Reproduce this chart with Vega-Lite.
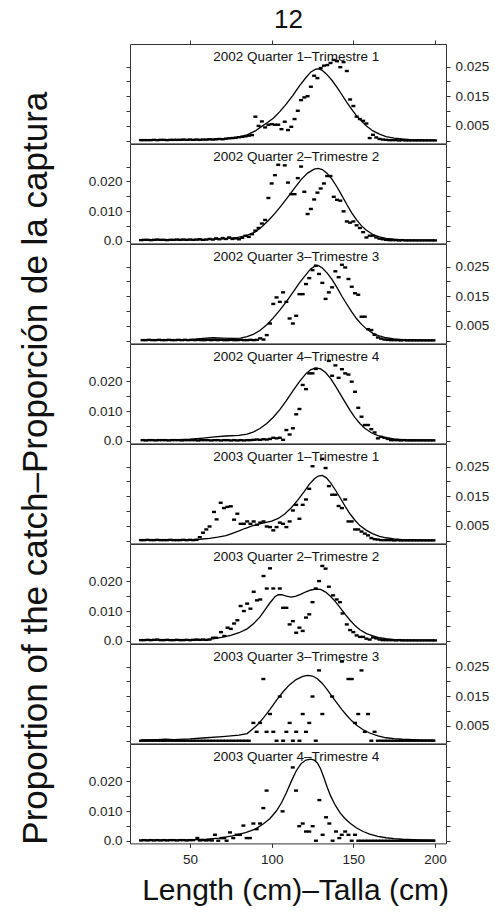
{
"$schema": "https://vega.github.io/schema/vega-lite/v6.json",
"background": "white",
"padding": {"left": 18, "top": 6, "right": 2, "bottom": 5},
"config": {
  "font": "Liberation Sans",
  "view": {"stroke": "#333", "strokeWidth": 1},
  "axis": {"grid": false, "domain": false, "tickColor": "#333", "tickSize": 4, "labelFont": "Liberation Sans", "labelFontSize": 13.5, "labelColor": "#222", "titleFont": "Liberation Sans", "titleFontWeight": "normal", "titleColor": "#111", "labelOverlap": false, "labelFlush": false}
},
"title": {"text": "Proportion of the catch–Proporción de la captura", "orient": "left", "anchor": "middle", "fontSize": 35, "fontWeight": "normal", "font": "Liberation Sans", "color": "#111", "offset": 34, "dx": -12},
"spacing": 0,
"bounds": "flush",
"datasets": {
"obs": [
{"p":1,"L":20,"v":0.0002},{"p":1,"L":22,"v":0.0002},{"p":1,"L":24,"v":0.0002},{"p":1,"L":26,"v":0.0002},{"p":1,"L":28,"v":0.0003},{"p":1,"L":30,"v":0.0002},{"p":1,"L":32,"v":0.0003},{"p":1,"L":34,"v":0.0003},{"p":1,"L":36,"v":0.0002},{"p":1,"L":38,"v":0.0003},{"p":1,"L":40,"v":0.0003},{"p":1,"L":42,"v":0.0003},{"p":1,"L":44,"v":0.0003},{"p":1,"L":46,"v":0.0004},{"p":1,"L":48,"v":0.0003},{"p":1,"L":50,"v":0.0004},{"p":1,"L":52,"v":0.0003},{"p":1,"L":54,"v":0.0004},{"p":1,"L":56,"v":0.0003},{"p":1,"L":58,"v":0.0004},{"p":1,"L":60,"v":0.0004},{"p":1,"L":62,"v":0.0005},{"p":1,"L":64,"v":0.0004},{"p":1,"L":66,"v":0.0005},{"p":1,"L":68,"v":0.0006},{"p":1,"L":70,"v":0.0005},{"p":1,"L":72,"v":0.0007},{"p":1,"L":74,"v":0.0008},{"p":1,"L":76,"v":0.0009},{"p":1,"L":78,"v":0.001},{"p":1,"L":80,"v":0.0012},{"p":1,"L":82,"v":0.0013},{"p":1,"L":84,"v":0.0015},{"p":1,"L":86,"v":0.0017},{"p":1,"L":88,"v":0.0019},{"p":1,"L":90,"v":0.0081},{"p":1,"L":92,"v":0.005},{"p":1,"L":94,"v":0.0065},{"p":1,"L":96,"v":0.0045},{"p":1,"L":98,"v":0.0054},{"p":1,"L":100,"v":0.0056},{"p":1,"L":102,"v":0.0054},{"p":1,"L":104,"v":0.0054},{"p":1,"L":106,"v":0.0039},{"p":1,"L":108,"v":0.0064},{"p":1,"L":110,"v":0.0036},{"p":1,"L":112,"v":0.0047},{"p":1,"L":114,"v":0.0073},{"p":1,"L":116,"v":0.0101},{"p":1,"L":118,"v":0.0137},{"p":1,"L":120,"v":0.0146},{"p":1,"L":122,"v":0.015},{"p":1,"L":124,"v":0.0182},{"p":1,"L":126,"v":0.0219},{"p":1,"L":128,"v":0.0211},{"p":1,"L":130,"v":0.0245},{"p":1,"L":132,"v":0.0253},{"p":1,"L":134,"v":0.0255},{"p":1,"L":136,"v":0.0262},{"p":1,"L":138,"v":0.0272},{"p":1,"L":140,"v":0.0268},{"p":1,"L":142,"v":0.0248},{"p":1,"L":144,"v":0.0265},{"p":1,"L":146,"v":0.0235},{"p":1,"L":148,"v":0.0139},{"p":1,"L":150,"v":0.0117},{"p":1,"L":152,"v":0.0081},{"p":1,"L":154,"v":0.0073},{"p":1,"L":156,"v":0.0067},{"p":1,"L":158,"v":0.0058},{"p":1,"L":160,"v":0.0009},{"p":1,"L":162,"v":0.002},{"p":1,"L":164,"v":0.0011},{"p":1,"L":166,"v":0.0006},{"p":1,"L":168,"v":0.0004},{"p":1,"L":170,"v":0.0003},{"p":1,"L":172,"v":0.0002},{"p":1,"L":174,"v":0.0002},{"p":1,"L":176,"v":0.0002},{"p":1,"L":178,"v":0.0001},{"p":1,"L":180,"v":0.0002},{"p":1,"L":182,"v":0.0001},{"p":1,"L":184,"v":0.0001},{"p":1,"L":186,"v":0.0001},{"p":1,"L":188,"v":0.0001},{"p":1,"L":190,"v":0.0001},{"p":1,"L":192,"v":0.0001},{"p":1,"L":194,"v":0.0001},{"p":1,"L":196,"v":0.0001},{"p":1,"L":198,"v":0.0001},{"p":1,"L":200,"v":0.0001},
{"p":2,"L":20,"v":0.0002},{"p":2,"L":22,"v":0.0003},{"p":2,"L":24,"v":0.0003},{"p":2,"L":26,"v":0.0002},{"p":2,"L":28,"v":0.0003},{"p":2,"L":30,"v":0.0004},{"p":2,"L":32,"v":0.0003},{"p":2,"L":34,"v":0.0003},{"p":2,"L":36,"v":0.0002},{"p":2,"L":38,"v":0.0003},{"p":2,"L":40,"v":0.0003},{"p":2,"L":42,"v":0.0004},{"p":2,"L":44,"v":0.0003},{"p":2,"L":46,"v":0.0004},{"p":2,"L":48,"v":0.0003},{"p":2,"L":50,"v":0.0004},{"p":2,"L":52,"v":0.0003},{"p":2,"L":54,"v":0.0004},{"p":2,"L":56,"v":0.0005},{"p":2,"L":58,"v":0.0003},{"p":2,"L":60,"v":0.0004},{"p":2,"L":62,"v":0.0006},{"p":2,"L":64,"v":0.0004},{"p":2,"L":66,"v":0.0008},{"p":2,"L":68,"v":0.0005},{"p":2,"L":70,"v":0.0009},{"p":2,"L":72,"v":0.0006},{"p":2,"L":74,"v":0.0011},{"p":2,"L":76,"v":0.0006},{"p":2,"L":78,"v":0.0008},{"p":2,"L":80,"v":0.0005},{"p":2,"L":82,"v":0.001},{"p":2,"L":84,"v":0.0017},{"p":2,"L":86,"v":0.0013},{"p":2,"L":88,"v":0.0022},{"p":2,"L":90,"v":0.0034},{"p":2,"L":92,"v":0.0043},{"p":2,"L":94,"v":0.0058},{"p":2,"L":96,"v":0.007},{"p":2,"L":98,"v":0.0144},{"p":2,"L":100,"v":0.0193},{"p":2,"L":102,"v":0.0221},{"p":2,"L":104,"v":0.0256},{"p":2,"L":108,"v":0.0254},{"p":2,"L":110,"v":0.0196},{"p":2,"L":112,"v":0.0157},{"p":2,"L":114,"v":0.0157},{"p":2,"L":116,"v":0.0211},{"p":2,"L":118,"v":0.025},{"p":2,"L":120,"v":0.0165},{"p":2,"L":122,"v":0.009},{"p":2,"L":124,"v":0.0107},{"p":2,"L":126,"v":0.0139},{"p":2,"L":128,"v":0.0162},{"p":2,"L":130,"v":0.0176},{"p":2,"L":132,"v":0.0193},{"p":2,"L":134,"v":0.0218},{"p":2,"L":136,"v":0.0218},{"p":2,"L":138,"v":0.0148},{"p":2,"L":140,"v":0.0138},{"p":2,"L":142,"v":0.0135},{"p":2,"L":144,"v":0.0099},{"p":2,"L":146,"v":0.0065},{"p":2,"L":148,"v":0.0061},{"p":2,"L":150,"v":0.0065},{"p":2,"L":152,"v":0.0052},{"p":2,"L":154,"v":0.0043},{"p":2,"L":156,"v":0.0029},{"p":2,"L":158,"v":0.0011},{"p":2,"L":160,"v":0.0017},{"p":2,"L":162,"v":0.0017},{"p":2,"L":164,"v":0.0011},{"p":2,"L":166,"v":0.0007},{"p":2,"L":168,"v":0.0005},{"p":2,"L":170,"v":0.0003},{"p":2,"L":172,"v":0.0002},{"p":2,"L":174,"v":0.0002},{"p":2,"L":176,"v":0.0002},{"p":2,"L":178,"v":0.0001},{"p":2,"L":180,"v":0.0002},{"p":2,"L":182,"v":0.0001},{"p":2,"L":184,"v":0.0001},{"p":2,"L":186,"v":0.0001},{"p":2,"L":188,"v":0.0001},{"p":2,"L":190,"v":0.0001},{"p":2,"L":192,"v":0.0001},{"p":2,"L":194,"v":0.0001},{"p":2,"L":196,"v":0.0001},{"p":2,"L":198,"v":0.0001},{"p":2,"L":200,"v":0.0001},
{"p":3,"L":21,"v":0.0002},{"p":3,"L":23,"v":0.0002},{"p":3,"L":25,"v":0.0003},{"p":3,"L":27,"v":0.0002},{"p":3,"L":29,"v":0.0002},{"p":3,"L":31,"v":0.0003},{"p":3,"L":33,"v":0.0002},{"p":3,"L":35,"v":0.0002},{"p":3,"L":37,"v":0.0003},{"p":3,"L":39,"v":0.0002},{"p":3,"L":41,"v":0.0002},{"p":3,"L":43,"v":0.0003},{"p":3,"L":45,"v":0.0002},{"p":3,"L":47,"v":0.0003},{"p":3,"L":49,"v":0.0002},{"p":3,"L":51,"v":0.0003},{"p":3,"L":53,"v":0.0002},{"p":3,"L":55,"v":0.0003},{"p":3,"L":57,"v":0.0002},{"p":3,"L":59,"v":0.0002},{"p":3,"L":61,"v":0.0003},{"p":3,"L":63,"v":0.0002},{"p":3,"L":65,"v":0.0003},{"p":3,"L":67,"v":0.0002},{"p":3,"L":69,"v":0.0003},{"p":3,"L":71,"v":0.0002},{"p":3,"L":73,"v":0.0002},{"p":3,"L":75,"v":0.0003},{"p":3,"L":77,"v":0.0002},{"p":3,"L":79,"v":0.0002},{"p":3,"L":81,"v":0.0003},{"p":3,"L":83,"v":0.0002},{"p":3,"L":85,"v":0.0002},{"p":3,"L":87,"v":0.0003},{"p":3,"L":89,"v":0.0002},{"p":3,"L":91,"v":0.0003},{"p":3,"L":93,"v":0.0008},{"p":3,"L":95,"v":0.0004},{"p":3,"L":97,"v":0.0019},{"p":3,"L":99,"v":0.0058},{"p":3,"L":101,"v":0.0124},{"p":3,"L":103,"v":0.0146},{"p":3,"L":105,"v":0.0131},{"p":3,"L":107,"v":0.0163},{"p":3,"L":109,"v":0.0131},{"p":3,"L":111,"v":0.0075},{"p":3,"L":113,"v":0.0058},{"p":3,"L":115,"v":0.0084},{"p":3,"L":117,"v":0.0157},{"p":3,"L":119,"v":0.0157},{"p":3,"L":121,"v":0.0191},{"p":3,"L":123,"v":0.0211},{"p":3,"L":125,"v":0.0238},{"p":3,"L":127,"v":0.0253},{"p":3,"L":129,"v":0.0225},{"p":3,"L":131,"v":0.0195},{"p":3,"L":133,"v":0.0141},{"p":3,"L":135,"v":0.0163},{"p":3,"L":137,"v":0.018},{"p":3,"L":139,"v":0.0234},{"p":3,"L":141,"v":0.0214},{"p":3,"L":143,"v":0.0256},{"p":3,"L":145,"v":0.0247},{"p":3,"L":147,"v":0.0208},{"p":3,"L":149,"v":0.0182},{"p":3,"L":151,"v":0.016},{"p":3,"L":153,"v":0.0155},{"p":3,"L":155,"v":0.0081},{"p":3,"L":157,"v":0.0081},{"p":3,"L":159,"v":0.0039},{"p":3,"L":161,"v":0.0036},{"p":3,"L":163,"v":0.002},{"p":3,"L":165,"v":0.0011},{"p":3,"L":167,"v":0.0007},{"p":3,"L":169,"v":0.0004},{"p":3,"L":171,"v":0.0003},{"p":3,"L":173,"v":0.0002},{"p":3,"L":175,"v":0.0002},{"p":3,"L":177,"v":0.0002},{"p":3,"L":179,"v":0.0001},{"p":3,"L":181,"v":0.0002},{"p":3,"L":183,"v":0.0001},{"p":3,"L":185,"v":0.0001},{"p":3,"L":187,"v":0.0001},{"p":3,"L":189,"v":0.0001},{"p":3,"L":191,"v":0.0001},{"p":3,"L":193,"v":0.0001},{"p":3,"L":195,"v":0.0001},{"p":3,"L":197,"v":0.0001},{"p":3,"L":199,"v":0.0001},
{"p":4,"L":21,"v":0.0002},{"p":4,"L":23,"v":0.0001},{"p":4,"L":25,"v":0.0002},{"p":4,"L":27,"v":0.0002},{"p":4,"L":29,"v":0.0001},{"p":4,"L":31,"v":0.0002},{"p":4,"L":33,"v":0.0002},{"p":4,"L":35,"v":0.0002},{"p":4,"L":37,"v":0.0001},{"p":4,"L":39,"v":0.0002},{"p":4,"L":41,"v":0.0002},{"p":4,"L":43,"v":0.0002},{"p":4,"L":45,"v":0.0001},{"p":4,"L":47,"v":0.0002},{"p":4,"L":49,"v":0.0002},{"p":4,"L":51,"v":0.0002},{"p":4,"L":53,"v":0.0002},{"p":4,"L":55,"v":0.0001},{"p":4,"L":57,"v":0.0002},{"p":4,"L":59,"v":0.0002},{"p":4,"L":61,"v":0.0002},{"p":4,"L":63,"v":0.0001},{"p":4,"L":65,"v":0.0002},{"p":4,"L":67,"v":0.0002},{"p":4,"L":69,"v":0.0001},{"p":4,"L":71,"v":0.0002},{"p":4,"L":73,"v":0.0002},{"p":4,"L":75,"v":0.0001},{"p":4,"L":77,"v":0.0002},{"p":4,"L":79,"v":0.0001},{"p":4,"L":81,"v":0.0002},{"p":4,"L":83,"v":0.0001},{"p":4,"L":85,"v":0.0002},{"p":4,"L":87,"v":0.0002},{"p":4,"L":89,"v":0.0003},{"p":4,"L":91,"v":0.0004},{"p":4,"L":93,"v":0.0003},{"p":4,"L":95,"v":0.0005},{"p":4,"L":97,"v":0.0004},{"p":4,"L":99,"v":0.0006},{"p":4,"L":101,"v":0.001},{"p":4,"L":103,"v":0.0008},{"p":4,"L":105,"v":0.001},{"p":4,"L":107,"v":0.0003},{"p":4,"L":109,"v":0.0036},{"p":4,"L":111,"v":0.0021},{"p":4,"L":113,"v":0.0042},{"p":4,"L":115,"v":0.0089},{"p":4,"L":117,"v":0.0107},{"p":4,"L":119,"v":0.0188},{"p":4,"L":121,"v":0.0174},{"p":4,"L":123,"v":0.0227},{"p":4,"L":125,"v":0.0227},{"p":4,"L":127,"v":0.0242},{"p":4,"L":135,"v":0.0269},{"p":4,"L":137,"v":0.0219},{"p":4,"L":139,"v":0.0254},{"p":4,"L":141,"v":0.0212},{"p":4,"L":143,"v":0.0241},{"p":4,"L":145,"v":0.0227},{"p":4,"L":147,"v":0.0223},{"p":4,"L":149,"v":0.0199},{"p":4,"L":151,"v":0.0165},{"p":4,"L":153,"v":0.0111},{"p":4,"L":155,"v":0.0081},{"p":4,"L":157,"v":0.0053},{"p":4,"L":159,"v":0.0053},{"p":4,"L":161,"v":0.0039},{"p":4,"L":163,"v":0.0028},{"p":4,"L":165,"v":0.0008},{"p":4,"L":167,"v":0.0013},{"p":4,"L":169,"v":0.001},{"p":4,"L":171,"v":0.0006},{"p":4,"L":173,"v":0.0002},{"p":4,"L":175,"v":0.0002},{"p":4,"L":177,"v":0.0002},{"p":4,"L":179,"v":0.0001},{"p":4,"L":181,"v":0.0002},{"p":4,"L":183,"v":0.0001},{"p":4,"L":185,"v":0.0001},{"p":4,"L":187,"v":0.0001},{"p":4,"L":189,"v":0.0001},{"p":4,"L":191,"v":0.0001},{"p":4,"L":193,"v":0.0001},{"p":4,"L":195,"v":0.0001},{"p":4,"L":197,"v":0.0001},{"p":4,"L":199,"v":0.0001},
{"p":5,"L":20,"v":0.0002},{"p":5,"L":22,"v":0.0002},{"p":5,"L":24,"v":0.0003},{"p":5,"L":26,"v":0.0002},{"p":5,"L":28,"v":0.0002},{"p":5,"L":30,"v":0.0003},{"p":5,"L":32,"v":0.0002},{"p":5,"L":34,"v":0.0002},{"p":5,"L":36,"v":0.0002},{"p":5,"L":38,"v":0.0003},{"p":5,"L":40,"v":0.0002},{"p":5,"L":42,"v":0.0002},{"p":5,"L":44,"v":0.0002},{"p":5,"L":46,"v":0.0003},{"p":5,"L":48,"v":0.0002},{"p":5,"L":50,"v":0.0003},{"p":5,"L":52,"v":0.0002},{"p":5,"L":54,"v":0.0003},{"p":5,"L":56,"v":0.0012},{"p":5,"L":58,"v":0.0027},{"p":5,"L":60,"v":0.0038},{"p":5,"L":62,"v":0.0048},{"p":5,"L":64.7,"v":0.0097},{"p":5,"L":66.3,"v":0.0072},{"p":5,"L":68.8,"v":0.0128},{"p":5,"L":70.8,"v":0.011},{"p":5,"L":72.9,"v":0.0114},{"p":5,"L":75,"v":0.0116},{"p":5,"L":77,"v":0.0071},{"p":5,"L":79,"v":0.0091},{"p":5,"L":81,"v":0.0057},{"p":5,"L":83,"v":0.0057},{"p":5,"L":85,"v":0.0065},{"p":5,"L":87,"v":0.0057},{"p":5,"L":89,"v":0.0065},{"p":5,"L":91,"v":0.0054},{"p":5,"L":93,"v":0.0061},{"p":5,"L":95,"v":0.0065},{"p":5,"L":97,"v":0.0048},{"p":5,"L":99,"v":0.0046},{"p":5,"L":101,"v":0.0035},{"p":5,"L":103,"v":0.0046},{"p":5,"L":105,"v":0.0061},{"p":5,"L":107,"v":0.0057},{"p":5,"L":109,"v":0.0046},{"p":5,"L":111,"v":0.0065},{"p":5,"L":113,"v":0.0102},{"p":5,"L":115,"v":0.0121},{"p":5,"L":117,"v":0.0074},{"p":5,"L":119,"v":0.0121},{"p":5,"L":121,"v":0.0139},{"p":5,"L":123,"v":0.0175},{"p":5,"L":125,"v":0.0251},{"p":5,"L":131,"v":0.0276},{"p":5,"L":133,"v":0.0245},{"p":5,"L":135,"v":0.0184},{"p":5,"L":137,"v":0.0155},{"p":5,"L":139,"v":0.0155},{"p":5,"L":141,"v":0.0117},{"p":5,"L":143,"v":0.011},{"p":5,"L":145,"v":0.0139},{"p":5,"L":147,"v":0.0065},{"p":5,"L":149,"v":0.0065},{"p":5,"L":151,"v":0.0038},{"p":5,"L":153,"v":0.0038},{"p":5,"L":155,"v":0.0031},{"p":5,"L":157,"v":0.0024},{"p":5,"L":159,"v":0.0018},{"p":5,"L":161,"v":0.0009},{"p":5,"L":163,"v":0.0005},{"p":5,"L":165,"v":0.0004},{"p":5,"L":167,"v":0.0002},{"p":5,"L":169,"v":0.0002},{"p":5,"L":171,"v":0.0002},{"p":5,"L":173,"v":0.0002},{"p":5,"L":175,"v":0.0001},{"p":5,"L":177,"v":0.0002},{"p":5,"L":179,"v":0.0001},{"p":5,"L":181,"v":0.0001},{"p":5,"L":183,"v":0.0001},{"p":5,"L":185,"v":0.0001},{"p":5,"L":187,"v":0.0001},{"p":5,"L":189,"v":0.0001},{"p":5,"L":191,"v":0.0001},{"p":5,"L":193,"v":0.0001},{"p":5,"L":195,"v":0.0001},{"p":5,"L":197,"v":0.0001},{"p":5,"L":199,"v":0.0001},
{"p":6,"L":20,"v":0.0002},{"p":6,"L":22,"v":0.0002},{"p":6,"L":24,"v":0.0003},{"p":6,"L":26,"v":0.0002},{"p":6,"L":28,"v":0.0003},{"p":6,"L":30,"v":0.0004},{"p":6,"L":32,"v":0.0002},{"p":6,"L":34,"v":0.0002},{"p":6,"L":36,"v":0.0003},{"p":6,"L":38,"v":0.0002},{"p":6,"L":40,"v":0.0002},{"p":6,"L":42,"v":0.0003},{"p":6,"L":44,"v":0.0002},{"p":6,"L":46,"v":0.0002},{"p":6,"L":48,"v":0.0003},{"p":6,"L":50,"v":0.0002},{"p":6,"L":52,"v":0.0003},{"p":6,"L":54,"v":0.0004},{"p":6,"L":56,"v":0.0003},{"p":6,"L":58,"v":0.0004},{"p":6,"L":60,"v":0.0003},{"p":6,"L":62,"v":0.0004},{"p":6,"L":64,"v":0.001},{"p":6,"L":66,"v":0.001},{"p":6,"L":69,"v":0.0029},{"p":6,"L":71,"v":0.0016},{"p":6,"L":73,"v":0.0044},{"p":6,"L":75,"v":0.004},{"p":6,"L":77,"v":0.0058},{"p":6,"L":79,"v":0.0069},{"p":6,"L":81,"v":0.0117},{"p":6,"L":83,"v":0.01},{"p":6,"L":85,"v":0.0125},{"p":6,"L":87,"v":0.0108},{"p":6,"L":89,"v":0.0165},{"p":6,"L":91,"v":0.0136},{"p":6,"L":93,"v":0.0139},{"p":6,"L":95,"v":0.0218},{"p":6,"L":97,"v":0.0176},{"p":6,"L":99,"v":0.0244},{"p":6,"L":101,"v":0.0176},{"p":6,"L":105,"v":0.0176},{"p":6,"L":107,"v":0.0111},{"p":6,"L":109,"v":0.0111},{"p":6,"L":111,"v":0.0055},{"p":6,"L":113,"v":0.0066},{"p":6,"L":115,"v":0.0027},{"p":6,"L":117,"v":0.0044},{"p":6,"L":119,"v":0.0033},{"p":6,"L":121,"v":0.0078},{"p":6,"L":123,"v":0.0089},{"p":6,"L":125,"v":0.013},{"p":6,"L":127,"v":0.0176},{"p":6,"L":129,"v":0.0201},{"p":6,"L":131,"v":0.0252},{"p":6,"L":133,"v":0.0243},{"p":6,"L":135,"v":0.0182},{"p":6,"L":137.6,"v":0.0153},{"p":6,"L":139.8,"v":0.0139},{"p":6,"L":141.8,"v":0.013},{"p":6,"L":143.4,"v":0.0092},{"p":6,"L":146,"v":0.0055},{"p":6,"L":148,"v":0.0036},{"p":6,"L":150,"v":0.0029},{"p":6,"L":152,"v":0.0018},{"p":6,"L":154,"v":0.0013},{"p":6,"L":156,"v":0.0013},{"p":6,"L":158,"v":0.0007},{"p":6,"L":160,"v":0.0004},{"p":6,"L":162,"v":0.0011},{"p":6,"L":164,"v":0.0008},{"p":6,"L":166,"v":0.0004},{"p":6,"L":168,"v":0.0002},{"p":6,"L":170,"v":0.0002},{"p":6,"L":172,"v":0.0002},{"p":6,"L":174,"v":0.0002},{"p":6,"L":176,"v":0.0001},{"p":6,"L":178,"v":0.0002},{"p":6,"L":180,"v":0.0001},{"p":6,"L":182,"v":0.0001},{"p":6,"L":184,"v":0.0001},{"p":6,"L":186,"v":0.0001},{"p":6,"L":188,"v":0.0001},{"p":6,"L":190,"v":0.0001},{"p":6,"L":192,"v":0.0001},{"p":6,"L":194,"v":0.0001},{"p":6,"L":196,"v":0.0001},{"p":6,"L":198,"v":0.0001},{"p":6,"L":200,"v":0.0001},
{"p":7,"L":20,"v":0},{"p":7,"L":22,"v":0},{"p":7,"L":24,"v":0},{"p":7,"L":26,"v":0},{"p":7,"L":28,"v":0},{"p":7,"L":30,"v":0},{"p":7,"L":32,"v":0},{"p":7,"L":34,"v":0},{"p":7,"L":36,"v":0},{"p":7,"L":38,"v":0},{"p":7,"L":40,"v":0},{"p":7,"L":42,"v":0},{"p":7,"L":44,"v":0},{"p":7,"L":46,"v":0},{"p":7,"L":48,"v":0},{"p":7,"L":50,"v":0},{"p":7,"L":52,"v":0},{"p":7,"L":54,"v":0},{"p":7,"L":56,"v":0},{"p":7,"L":58,"v":0},{"p":7,"L":60,"v":0},{"p":7,"L":62,"v":0},{"p":7,"L":64,"v":0},{"p":7,"L":66,"v":0},{"p":7,"L":68,"v":0},{"p":7,"L":70,"v":0},{"p":7,"L":72,"v":0},{"p":7,"L":74,"v":0},{"p":7,"L":76,"v":0},{"p":7,"L":78,"v":0},{"p":7,"L":80,"v":0},{"p":7,"L":82,"v":0},{"p":7,"L":84,"v":0},{"p":7,"L":86,"v":0},{"p":7,"L":88.8,"v":0.006},{"p":7,"L":90.8,"v":0.003},{"p":7,"L":92.9,"v":0.006},{"p":7,"L":94.9,"v":0.0208},{"p":7,"L":96.9,"v":0.003},{"p":7,"L":99,"v":0.009},{"p":7,"L":101,"v":0.003},{"p":7,"L":103,"v":0},{"p":7,"L":105,"v":0.0149},{"p":7,"L":107,"v":0},{"p":7,"L":109,"v":0.003},{"p":7,"L":111,"v":0.006},{"p":7,"L":113,"v":0},{"p":7,"L":115,"v":0.003},{"p":7,"L":117,"v":0},{"p":7,"L":119,"v":0.009},{"p":7,"L":121,"v":0.003},{"p":7,"L":123,"v":0.006},{"p":7,"L":125,"v":0.0149},{"p":7,"L":127,"v":0},{"p":7,"L":129,"v":0.0237},{"p":7,"L":131,"v":0.009},{"p":7,"L":137,"v":0.0149},{"p":7,"L":143,"v":0.0267},{"p":7,"L":147,"v":0.0208},{"p":7,"L":149,"v":0.0208},{"p":7,"L":151,"v":0.006},{"p":7,"L":153,"v":0.009},{"p":7,"L":155,"v":0.0237},{"p":7,"L":157,"v":0.003},{"p":7,"L":159,"v":0.009},{"p":7,"L":161,"v":0},{"p":7,"L":163,"v":0.003},{"p":7,"L":165,"v":0},{"p":7,"L":167,"v":0},{"p":7,"L":169,"v":0},{"p":7,"L":171,"v":0},{"p":7,"L":173,"v":0},{"p":7,"L":175,"v":0},{"p":7,"L":177,"v":0},{"p":7,"L":179,"v":0},{"p":7,"L":181,"v":0},{"p":7,"L":183,"v":0},{"p":7,"L":185,"v":0},{"p":7,"L":187,"v":0},{"p":7,"L":189,"v":0},{"p":7,"L":191,"v":0},{"p":7,"L":193,"v":0},{"p":7,"L":195,"v":0},{"p":7,"L":197,"v":0},{"p":7,"L":199,"v":0},
{"p":8,"L":20,"v":0.0001},{"p":8,"L":22,"v":0.0002},{"p":8,"L":24,"v":0.0001},{"p":8,"L":26,"v":0.0002},{"p":8,"L":28,"v":0.0001},{"p":8,"L":30,"v":0.0002},{"p":8,"L":32,"v":0.0001},{"p":8,"L":34,"v":0.0002},{"p":8,"L":36,"v":0.0001},{"p":8,"L":38,"v":0.0002},{"p":8,"L":40,"v":0.0002},{"p":8,"L":42,"v":0.0001},{"p":8,"L":44,"v":0.0002},{"p":8,"L":46,"v":0.0002},{"p":8,"L":48,"v":0.0001},{"p":8,"L":50,"v":0.0002},{"p":8,"L":52,"v":0.0002},{"p":8,"L":54.5,"v":0.0009},{"p":8,"L":56,"v":0.0001},{"p":8,"L":58,"v":0.0002},{"p":8,"L":60,"v":0.0001},{"p":8,"L":62,"v":0.0002},{"p":8,"L":63.5,"v":0.0001},{"p":8,"L":65.3,"v":0.002},{"p":8,"L":67.3,"v":0},{"p":8,"L":69.4,"v":0.0009},{"p":8,"L":71,"v":0.0009},{"p":8,"L":72.4,"v":0},{"p":8,"L":74.5,"v":0.0028},{"p":8,"L":76.5,"v":0.0009},{"p":8,"L":78.6,"v":0.002},{"p":8,"L":80.6,"v":0.002},{"p":8,"L":82.7,"v":0.0051},{"p":8,"L":84.7,"v":0.0009},{"p":8,"L":86.7,"v":0.0009},{"p":8,"L":88.8,"v":0.0058},{"p":8,"L":90.8,"v":0.0039},{"p":8,"L":92.9,"v":0.0058},{"p":8,"L":94.9,"v":0.011},{"p":8,"L":96.9,"v":0.0169},{"p":8,"L":106.7,"v":0.0099},{"p":8,"L":112.9,"v":0.0247},{"p":8,"L":114.9,"v":0.0169},{"p":8,"L":116.9,"v":0.0049},{"p":8,"L":119,"v":0.0058},{"p":8,"L":121,"v":0.0031},{"p":8,"L":123,"v":0.0031},{"p":8,"L":125.1,"v":0.0049},{"p":8,"L":127.1,"v":0},{"p":8,"L":129.2,"v":0.0137},{"p":8,"L":131.2,"v":0.002},{"p":8,"L":133.3,"v":0.0079},{"p":8,"L":135.3,"v":0.0058},{"p":8,"L":137.3,"v":0},{"p":8,"L":139.4,"v":0.0031},{"p":8,"L":141.4,"v":0.0009},{"p":8,"L":142.9,"v":0.002},{"p":8,"L":145,"v":0.0031},{"p":8,"L":147,"v":0.002},{"p":8,"L":149,"v":0},{"p":8,"L":151,"v":0.002},{"p":8,"L":153,"v":0},{"p":8,"L":155,"v":0},{"p":8,"L":157,"v":0},{"p":8,"L":159,"v":0},{"p":8,"L":161,"v":0},{"p":8,"L":163,"v":0},{"p":8,"L":165,"v":0},{"p":8,"L":167,"v":0},{"p":8,"L":169,"v":0},{"p":8,"L":171,"v":0},{"p":8,"L":173,"v":0},{"p":8,"L":175,"v":0},{"p":8,"L":177,"v":0},{"p":8,"L":179,"v":0},{"p":8,"L":181,"v":0},{"p":8,"L":183,"v":0},{"p":8,"L":185,"v":0},{"p":8,"L":187,"v":0},{"p":8,"L":189,"v":0},{"p":8,"L":191,"v":0},{"p":8,"L":193,"v":0},{"p":8,"L":195,"v":0},{"p":8,"L":197,"v":0},{"p":8,"L":199,"v":0}
],
"fit": [
{"p":1,"L":20,"v":0.0002},{"p":1,"L":30,"v":0.0002},{"p":1,"L":40,"v":0.0002},{"p":1,"L":50,"v":0.0003},{"p":1,"L":60,"v":0.0004},{"p":1,"L":68,"v":0.0005},{"p":1,"L":75,"v":0.0009},{"p":1,"L":80,"v":0.0013},{"p":1,"L":85,"v":0.002},{"p":1,"L":90,"v":0.0033},{"p":1,"L":93,"v":0.0045},{"p":1,"L":97,"v":0.006},{"p":1,"L":101,"v":0.0076},{"p":1,"L":105,"v":0.0098},{"p":1,"L":109,"v":0.0124},{"p":1,"L":113,"v":0.0153},{"p":1,"L":117,"v":0.0185},{"p":1,"L":121,"v":0.0213},{"p":1,"L":124,"v":0.0232},{"p":1,"L":127,"v":0.0241},{"p":1,"L":129,"v":0.0242},{"p":1,"L":131,"v":0.0237},{"p":1,"L":134,"v":0.0222},{"p":1,"L":137,"v":0.0203},{"p":1,"L":140,"v":0.018},{"p":1,"L":143,"v":0.0155},{"p":1,"L":146,"v":0.0129},{"p":1,"L":149,"v":0.0106},{"p":1,"L":152,"v":0.0084},{"p":1,"L":155,"v":0.0066},{"p":1,"L":158,"v":0.005},{"p":1,"L":162,"v":0.0033},{"p":1,"L":166,"v":0.0022},{"p":1,"L":170,"v":0.0014},{"p":1,"L":175,"v":0.0009},{"p":1,"L":180,"v":0.0006},{"p":1,"L":185,"v":0.0004},{"p":1,"L":190,"v":0.0003},{"p":1,"L":200,"v":0.0002},
{"p":2,"L":20,"v":0.0002},{"p":2,"L":40,"v":0.0003},{"p":2,"L":60,"v":0.0004},{"p":2,"L":70,"v":0.0006},{"p":2,"L":78,"v":0.001},{"p":2,"L":85,"v":0.0018},{"p":2,"L":90,"v":0.003},{"p":2,"L":94,"v":0.0047},{"p":2,"L":98,"v":0.0068},{"p":2,"L":102,"v":0.0092},{"p":2,"L":106,"v":0.0119},{"p":2,"L":110,"v":0.0148},{"p":2,"L":114,"v":0.0177},{"p":2,"L":118,"v":0.0206},{"p":2,"L":122,"v":0.0228},{"p":2,"L":126,"v":0.0241},{"p":2,"L":128.5,"v":0.0244},{"p":2,"L":131,"v":0.024},{"p":2,"L":134,"v":0.0227},{"p":2,"L":137,"v":0.0207},{"p":2,"L":140,"v":0.0181},{"p":2,"L":143,"v":0.0152},{"p":2,"L":146,"v":0.0122},{"p":2,"L":149,"v":0.0094},{"p":2,"L":152,"v":0.007},{"p":2,"L":155,"v":0.005},{"p":2,"L":158,"v":0.0035},{"p":2,"L":162,"v":0.0021},{"p":2,"L":166,"v":0.0013},{"p":2,"L":170,"v":0.0008},{"p":2,"L":175,"v":0.0005},{"p":2,"L":180,"v":0.0003},{"p":2,"L":190,"v":0.0002},{"p":2,"L":200,"v":0.0002},
{"p":3,"L":20,"v":0.0002},{"p":3,"L":40,"v":0.0002},{"p":3,"L":50,"v":0.0004},{"p":3,"L":58,"v":0.0008},{"p":3,"L":64,"v":0.001},{"p":3,"L":70,"v":0.0009},{"p":3,"L":76,"v":0.0008},{"p":3,"L":81,"v":0.0009},{"p":3,"L":85,"v":0.0014},{"p":3,"L":89,"v":0.0022},{"p":3,"L":93,"v":0.0035},{"p":3,"L":97,"v":0.0054},{"p":3,"L":101,"v":0.0077},{"p":3,"L":105,"v":0.0103},{"p":3,"L":109,"v":0.0132},{"p":3,"L":113,"v":0.0163},{"p":3,"L":117,"v":0.0195},{"p":3,"L":121,"v":0.0223},{"p":3,"L":124,"v":0.0243},{"p":3,"L":127,"v":0.0253},{"p":3,"L":129,"v":0.0252},{"p":3,"L":131,"v":0.0245},{"p":3,"L":134,"v":0.0228},{"p":3,"L":137,"v":0.0206},{"p":3,"L":140,"v":0.0179},{"p":3,"L":143,"v":0.015},{"p":3,"L":146,"v":0.0123},{"p":3,"L":149,"v":0.0097},{"p":3,"L":152,"v":0.0074},{"p":3,"L":155,"v":0.0055},{"p":3,"L":158,"v":0.004},{"p":3,"L":162,"v":0.0025},{"p":3,"L":166,"v":0.0016},{"p":3,"L":170,"v":0.001},{"p":3,"L":175,"v":0.0006},{"p":3,"L":180,"v":0.0004},{"p":3,"L":190,"v":0.0003},{"p":3,"L":200,"v":0.0002},
{"p":4,"L":20,"v":0.0002},{"p":4,"L":40,"v":0.0003},{"p":4,"L":50,"v":0.0005},{"p":4,"L":58,"v":0.0009},{"p":4,"L":65,"v":0.0013},{"p":4,"L":72,"v":0.0016},{"p":4,"L":80,"v":0.0018},{"p":4,"L":85,"v":0.0022},{"p":4,"L":89,"v":0.003},{"p":4,"L":93,"v":0.0042},{"p":4,"L":97,"v":0.0058},{"p":4,"L":101,"v":0.0079},{"p":4,"L":105,"v":0.0105},{"p":4,"L":109,"v":0.0135},{"p":4,"L":113,"v":0.0168},{"p":4,"L":117,"v":0.0199},{"p":4,"L":121,"v":0.0226},{"p":4,"L":124,"v":0.024},{"p":4,"L":127,"v":0.0245},{"p":4,"L":130,"v":0.0242},{"p":4,"L":133,"v":0.023},{"p":4,"L":136,"v":0.021},{"p":4,"L":139,"v":0.0185},{"p":4,"L":142,"v":0.0157},{"p":4,"L":145,"v":0.0129},{"p":4,"L":148,"v":0.0102},{"p":4,"L":151,"v":0.0078},{"p":4,"L":154,"v":0.0058},{"p":4,"L":157,"v":0.0042},{"p":4,"L":161,"v":0.0027},{"p":4,"L":165,"v":0.0017},{"p":4,"L":170,"v":0.001},{"p":4,"L":175,"v":0.0006},{"p":4,"L":180,"v":0.0004},{"p":4,"L":190,"v":0.0003},{"p":4,"L":200,"v":0.0002},
{"p":5,"L":20,"v":0.0002},{"p":5,"L":40,"v":0.0002},{"p":5,"L":50,"v":0.0003},{"p":5,"L":56,"v":0.0005},{"p":5,"L":62,"v":0.0008},{"p":5,"L":67,"v":0.0012},{"p":5,"L":72,"v":0.0017},{"p":5,"L":76,"v":0.0025},{"p":5,"L":80,"v":0.0033},{"p":5,"L":84,"v":0.0042},{"p":5,"L":88,"v":0.005},{"p":5,"L":92,"v":0.0056},{"p":5,"L":96,"v":0.0061},{"p":5,"L":100,"v":0.0066},{"p":5,"L":104,"v":0.0075},{"p":5,"L":108,"v":0.009},{"p":5,"L":112,"v":0.0111},{"p":5,"L":116,"v":0.0137},{"p":5,"L":120,"v":0.0166},{"p":5,"L":123,"v":0.019},{"p":5,"L":126,"v":0.0208},{"p":5,"L":128.5,"v":0.0218},{"p":5,"L":131,"v":0.022},{"p":5,"L":133.5,"v":0.0212},{"p":5,"L":136,"v":0.0196},{"p":5,"L":139,"v":0.0171},{"p":5,"L":142,"v":0.0144},{"p":5,"L":145,"v":0.0116},{"p":5,"L":148,"v":0.009},{"p":5,"L":151,"v":0.0069},{"p":5,"L":154,"v":0.0051},{"p":5,"L":158,"v":0.0035},{"p":5,"L":162,"v":0.0023},{"p":5,"L":166,"v":0.0015},{"p":5,"L":170,"v":0.001},{"p":5,"L":175,"v":0.0006},{"p":5,"L":180,"v":0.0004},{"p":5,"L":190,"v":0.0003},{"p":5,"L":200,"v":0.0002},
{"p":6,"L":20,"v":0.0002},{"p":6,"L":40,"v":0.0002},{"p":6,"L":55,"v":0.0002},{"p":6,"L":60,"v":0.0003},{"p":6,"L":65,"v":0.0007},{"p":6,"L":70,"v":0.0012},{"p":6,"L":75,"v":0.0018},{"p":6,"L":80,"v":0.0027},{"p":6,"L":85,"v":0.004},{"p":6,"L":89,"v":0.0058},{"p":6,"L":93,"v":0.0081},{"p":6,"L":96,"v":0.0105},{"p":6,"L":99,"v":0.0128},{"p":6,"L":102,"v":0.0148},{"p":6,"L":104,"v":0.0155},{"p":6,"L":106,"v":0.0155},{"p":6,"L":109,"v":0.015},{"p":6,"L":112,"v":0.0147},{"p":6,"L":115,"v":0.015},{"p":6,"L":118,"v":0.0157},{"p":6,"L":121,"v":0.0165},{"p":6,"L":124,"v":0.0171},{"p":6,"L":127,"v":0.0174},{"p":6,"L":130,"v":0.0173},{"p":6,"L":133,"v":0.0164},{"p":6,"L":136,"v":0.015},{"p":6,"L":139,"v":0.0132},{"p":6,"L":142,"v":0.0111},{"p":6,"L":145,"v":0.0089},{"p":6,"L":148,"v":0.0069},{"p":6,"L":151,"v":0.0051},{"p":6,"L":154,"v":0.0037},{"p":6,"L":158,"v":0.0024},{"p":6,"L":162,"v":0.0016},{"p":6,"L":166,"v":0.001},{"p":6,"L":170,"v":0.0007},{"p":6,"L":175,"v":0.0004},{"p":6,"L":185,"v":0.0002},{"p":6,"L":200,"v":0.0002},
{"p":7,"L":20,"v":0.0003},{"p":7,"L":30,"v":0.0004},{"p":7,"L":35,"v":0.0005},{"p":7,"L":40,"v":0.0004},{"p":7,"L":50,"v":0.0006},{"p":7,"L":60,"v":0.001},{"p":7,"L":70,"v":0.0014},{"p":7,"L":80,"v":0.0019},{"p":7,"L":85,"v":0.0024},{"p":7,"L":88,"v":0.0038},{"p":7,"L":91,"v":0.0052},{"p":7,"L":95,"v":0.0077},{"p":7,"L":99,"v":0.0106},{"p":7,"L":103,"v":0.0137},{"p":7,"L":107,"v":0.0165},{"p":7,"L":111,"v":0.0189},{"p":7,"L":115,"v":0.0206},{"p":7,"L":119,"v":0.0217},{"p":7,"L":122,"v":0.022},{"p":7,"L":125,"v":0.0218},{"p":7,"L":128,"v":0.0209},{"p":7,"L":131,"v":0.0193},{"p":7,"L":134,"v":0.0172},{"p":7,"L":137,"v":0.0149},{"p":7,"L":140,"v":0.0127},{"p":7,"L":143,"v":0.0105},{"p":7,"L":146,"v":0.0085},{"p":7,"L":149,"v":0.0067},{"p":7,"L":152,"v":0.0052},{"p":7,"L":156,"v":0.0037},{"p":7,"L":160,"v":0.0026},{"p":7,"L":165,"v":0.0016},{"p":7,"L":170,"v":0.001},{"p":7,"L":175,"v":0.0007},{"p":7,"L":180,"v":0.0005},{"p":7,"L":190,"v":0.0003},{"p":7,"L":200,"v":0.0002},
{"p":8,"L":20,"v":0.0002},{"p":8,"L":40,"v":0.0002},{"p":8,"L":50,"v":0.0003},{"p":8,"L":60,"v":0.0005},{"p":8,"L":68,"v":0.0009},{"p":8,"L":76,"v":0.0016},{"p":8,"L":84,"v":0.0027},{"p":8,"L":90,"v":0.0039},{"p":8,"L":95,"v":0.0057},{"p":8,"L":99,"v":0.0075},{"p":8,"L":103,"v":0.0101},{"p":8,"L":106,"v":0.0128},{"p":8,"L":109,"v":0.0162},{"p":8,"L":112,"v":0.02},{"p":8,"L":115,"v":0.0235},{"p":8,"L":118,"v":0.026},{"p":8,"L":121,"v":0.0272},{"p":8,"L":124,"v":0.0275},{"p":8,"L":126,"v":0.0272},{"p":8,"L":128,"v":0.0262},{"p":8,"L":130,"v":0.0242},{"p":8,"L":132,"v":0.0212},{"p":8,"L":134,"v":0.018},{"p":8,"L":136,"v":0.0152},{"p":8,"L":139,"v":0.0119},{"p":8,"L":142,"v":0.0093},{"p":8,"L":145,"v":0.0074},{"p":8,"L":148,"v":0.0059},{"p":8,"L":152,"v":0.0043},{"p":8,"L":156,"v":0.0031},{"p":8,"L":160,"v":0.0022},{"p":8,"L":165,"v":0.0015},{"p":8,"L":170,"v":0.001},{"p":8,"L":175,"v":0.0007},{"p":8,"L":180,"v":0.0005},{"p":8,"L":190,"v":0.0003},{"p":8,"L":200,"v":0.0002}
]
},
"vconcat": [
{"width": 316, "height": 99.4,
 "layer": [
  {"data": {"name": "obs"}, "transform": [{"filter": "datum.p == 1"}],
   "mark": {"type": "point", "shape": "M-1,-0.6H1V0.6H-1Z", "filled": true, "color": "#000", "size": 16, "opacity": 1},
   "encoding": {"x": {"field": "L", "type": "quantitative", "scale": {"domain": [13.3, 206.7], "nice": false, "zero": false}, "axis": {"orient": "top", "values": [50, 100, 150, 200], "labels": false, "title": "12", "titleFontSize": 26, "titlePadding": 7}},
    "y": {"field": "v", "type": "quantitative", "scale": {"domain": [-0.0009, 0.0326], "nice": false, "zero": false}, "axis": {"orient": "left", "values": [0, 0.005, 0.01, 0.015, 0.02, 0.025], "labels": false, "title": null}}}},
  {"data": {"name": "fit"}, "transform": [{"filter": "datum.p == 1"}],
   "mark": {"type": "line", "color": "#000", "strokeWidth": 1.3},
   "encoding": {"x": {"field": "L", "type": "quantitative", "scale": {"domain": [13.3, 206.7], "nice": false, "zero": false}, "axis": null},
    "y": {"field": "v", "type": "quantitative", "scale": {"domain": [-0.0009, 0.0326], "nice": false, "zero": false}, "axis": {"orient": "right", "values": [0, 0.005, 0.01, 0.015, 0.02, 0.025], "labelExpr": "round(datum.value*1000) % 10 == 5 ? format(datum.value, '.3f') : ''", "labelPadding": 5, "title": null}}}},
  {"data": {"values": [{"lab": "2002 Quarter 1–Trimestre 1"}]},
   "mark": {"type": "text", "fontSize": 13.5, "color": "#111", "baseline": "middle"},
   "encoding": {"x": {"datum": 115, "type": "quantitative", "axis": null}, "y": {"datum": 0.0282, "type": "quantitative", "axis": null}, "text": {"field": "lab"}}}
 ],
 "resolve": {"axis": {"x": "independent", "y": "independent"}}},
{"width": 316, "height": 99.4,
 "layer": [
  {"data": {"name": "obs"}, "transform": [{"filter": "datum.p == 2"}],
   "mark": {"type": "point", "shape": "M-1,-0.6H1V0.6H-1Z", "filled": true, "color": "#000", "size": 16, "opacity": 1},
   "encoding": {"x": {"field": "L", "type": "quantitative", "scale": {"domain": [13.3, 206.7], "nice": false, "zero": false}, "axis": null},
    "y": {"field": "v", "type": "quantitative", "scale": {"domain": [-0.0009, 0.0326], "nice": false, "zero": false}, "axis": {"orient": "left", "values": [0, 0.005, 0.01, 0.015, 0.02, 0.025], "labelExpr": "datum.value == 0 ? '0.0' : round(datum.value*1000) == 10 ? '0.010' : round(datum.value*1000) == 20 ? '0.020' : ''", "labelPadding": 4, "title": null}}}},
  {"data": {"name": "fit"}, "transform": [{"filter": "datum.p == 2"}],
   "mark": {"type": "line", "color": "#000", "strokeWidth": 1.3},
   "encoding": {"x": {"field": "L", "type": "quantitative", "scale": {"domain": [13.3, 206.7], "nice": false, "zero": false}, "axis": null},
    "y": {"field": "v", "type": "quantitative", "scale": {"domain": [-0.0009, 0.0326], "nice": false, "zero": false}, "axis": {"orient": "right", "values": [0, 0.005, 0.01, 0.015, 0.02, 0.025], "labels": false, "title": null}}}},
  {"data": {"values": [{"lab": "2002 Quarter 2–Trimestre 2"}]},
   "mark": {"type": "text", "fontSize": 13.5, "color": "#111", "baseline": "middle"},
   "encoding": {"x": {"datum": 115, "type": "quantitative", "axis": null}, "y": {"datum": 0.0282, "type": "quantitative", "axis": null}, "text": {"field": "lab"}}}
 ],
 "resolve": {"axis": {"x": "independent", "y": "independent"}}},
{"width": 316, "height": 99.4,
 "layer": [
  {"data": {"name": "obs"}, "transform": [{"filter": "datum.p == 3"}],
   "mark": {"type": "point", "shape": "M-1,-0.6H1V0.6H-1Z", "filled": true, "color": "#000", "size": 16, "opacity": 1},
   "encoding": {"x": {"field": "L", "type": "quantitative", "scale": {"domain": [13.3, 206.7], "nice": false, "zero": false}, "axis": null},
    "y": {"field": "v", "type": "quantitative", "scale": {"domain": [-0.0009, 0.0326], "nice": false, "zero": false}, "axis": {"orient": "left", "values": [0, 0.005, 0.01, 0.015, 0.02, 0.025], "labels": false, "title": null}}}},
  {"data": {"name": "fit"}, "transform": [{"filter": "datum.p == 3"}],
   "mark": {"type": "line", "color": "#000", "strokeWidth": 1.3},
   "encoding": {"x": {"field": "L", "type": "quantitative", "scale": {"domain": [13.3, 206.7], "nice": false, "zero": false}, "axis": null},
    "y": {"field": "v", "type": "quantitative", "scale": {"domain": [-0.0009, 0.0326], "nice": false, "zero": false}, "axis": {"orient": "right", "values": [0, 0.005, 0.01, 0.015, 0.02, 0.025], "labelExpr": "round(datum.value*1000) % 10 == 5 ? format(datum.value, '.3f') : ''", "labelPadding": 5, "title": null}}}},
  {"data": {"values": [{"lab": "2002 Quarter 3–Trimestre 3"}]},
   "mark": {"type": "text", "fontSize": 13.5, "color": "#111", "baseline": "middle"},
   "encoding": {"x": {"datum": 115, "type": "quantitative", "axis": null}, "y": {"datum": 0.0282, "type": "quantitative", "axis": null}, "text": {"field": "lab"}}}
 ],
 "resolve": {"axis": {"x": "independent", "y": "independent"}}},
{"width": 316, "height": 99.4,
 "layer": [
  {"data": {"name": "obs"}, "transform": [{"filter": "datum.p == 4"}],
   "mark": {"type": "point", "shape": "M-1,-0.6H1V0.6H-1Z", "filled": true, "color": "#000", "size": 16, "opacity": 1},
   "encoding": {"x": {"field": "L", "type": "quantitative", "scale": {"domain": [13.3, 206.7], "nice": false, "zero": false}, "axis": null},
    "y": {"field": "v", "type": "quantitative", "scale": {"domain": [-0.0009, 0.0326], "nice": false, "zero": false}, "axis": {"orient": "left", "values": [0, 0.005, 0.01, 0.015, 0.02, 0.025], "labelExpr": "datum.value == 0 ? '0.0' : round(datum.value*1000) == 10 ? '0.010' : round(datum.value*1000) == 20 ? '0.020' : ''", "labelPadding": 4, "title": null}}}},
  {"data": {"name": "fit"}, "transform": [{"filter": "datum.p == 4"}],
   "mark": {"type": "line", "color": "#000", "strokeWidth": 1.3},
   "encoding": {"x": {"field": "L", "type": "quantitative", "scale": {"domain": [13.3, 206.7], "nice": false, "zero": false}, "axis": null},
    "y": {"field": "v", "type": "quantitative", "scale": {"domain": [-0.0009, 0.0326], "nice": false, "zero": false}, "axis": {"orient": "right", "values": [0, 0.005, 0.01, 0.015, 0.02, 0.025], "labels": false, "title": null}}}},
  {"data": {"values": [{"lab": "2002 Quarter 4–Trimestre 4"}]},
   "mark": {"type": "text", "fontSize": 13.5, "color": "#111", "baseline": "middle"},
   "encoding": {"x": {"datum": 115, "type": "quantitative", "axis": null}, "y": {"datum": 0.0282, "type": "quantitative", "axis": null}, "text": {"field": "lab"}}}
 ],
 "resolve": {"axis": {"x": "independent", "y": "independent"}}},
{"width": 316, "height": 99.4,
 "layer": [
  {"data": {"name": "obs"}, "transform": [{"filter": "datum.p == 5"}],
   "mark": {"type": "point", "shape": "M-1,-0.6H1V0.6H-1Z", "filled": true, "color": "#000", "size": 16, "opacity": 1},
   "encoding": {"x": {"field": "L", "type": "quantitative", "scale": {"domain": [13.3, 206.7], "nice": false, "zero": false}, "axis": null},
    "y": {"field": "v", "type": "quantitative", "scale": {"domain": [-0.0009, 0.0326], "nice": false, "zero": false}, "axis": {"orient": "left", "values": [0, 0.005, 0.01, 0.015, 0.02, 0.025], "labels": false, "title": null}}}},
  {"data": {"name": "fit"}, "transform": [{"filter": "datum.p == 5"}],
   "mark": {"type": "line", "color": "#000", "strokeWidth": 1.3},
   "encoding": {"x": {"field": "L", "type": "quantitative", "scale": {"domain": [13.3, 206.7], "nice": false, "zero": false}, "axis": null},
    "y": {"field": "v", "type": "quantitative", "scale": {"domain": [-0.0009, 0.0326], "nice": false, "zero": false}, "axis": {"orient": "right", "values": [0, 0.005, 0.01, 0.015, 0.02, 0.025], "labelExpr": "round(datum.value*1000) % 10 == 5 ? format(datum.value, '.3f') : ''", "labelPadding": 5, "title": null}}}},
  {"data": {"values": [{"lab": "2003 Quarter 1–Trimestre 1"}]},
   "mark": {"type": "text", "fontSize": 13.5, "color": "#111", "baseline": "middle"},
   "encoding": {"x": {"datum": 115, "type": "quantitative", "axis": null}, "y": {"datum": 0.0282, "type": "quantitative", "axis": null}, "text": {"field": "lab"}}}
 ],
 "resolve": {"axis": {"x": "independent", "y": "independent"}}},
{"width": 316, "height": 99.4,
 "layer": [
  {"data": {"name": "obs"}, "transform": [{"filter": "datum.p == 6"}],
   "mark": {"type": "point", "shape": "M-1,-0.6H1V0.6H-1Z", "filled": true, "color": "#000", "size": 16, "opacity": 1},
   "encoding": {"x": {"field": "L", "type": "quantitative", "scale": {"domain": [13.3, 206.7], "nice": false, "zero": false}, "axis": null},
    "y": {"field": "v", "type": "quantitative", "scale": {"domain": [-0.0009, 0.0326], "nice": false, "zero": false}, "axis": {"orient": "left", "values": [0, 0.005, 0.01, 0.015, 0.02, 0.025], "labelExpr": "datum.value == 0 ? '0.0' : round(datum.value*1000) == 10 ? '0.010' : round(datum.value*1000) == 20 ? '0.020' : ''", "labelPadding": 4, "title": null}}}},
  {"data": {"name": "fit"}, "transform": [{"filter": "datum.p == 6"}],
   "mark": {"type": "line", "color": "#000", "strokeWidth": 1.3},
   "encoding": {"x": {"field": "L", "type": "quantitative", "scale": {"domain": [13.3, 206.7], "nice": false, "zero": false}, "axis": null},
    "y": {"field": "v", "type": "quantitative", "scale": {"domain": [-0.0009, 0.0326], "nice": false, "zero": false}, "axis": {"orient": "right", "values": [0, 0.005, 0.01, 0.015, 0.02, 0.025], "labels": false, "title": null}}}},
  {"data": {"values": [{"lab": "2003 Quarter 2–Trimestre 2"}]},
   "mark": {"type": "text", "fontSize": 13.5, "color": "#111", "baseline": "middle"},
   "encoding": {"x": {"datum": 115, "type": "quantitative", "axis": null}, "y": {"datum": 0.0282, "type": "quantitative", "axis": null}, "text": {"field": "lab"}}}
 ],
 "resolve": {"axis": {"x": "independent", "y": "independent"}}},
{"width": 316, "height": 99.4,
 "layer": [
  {"data": {"name": "obs"}, "transform": [{"filter": "datum.p == 7"}],
   "mark": {"type": "point", "shape": "M-1,-0.6H1V0.6H-1Z", "filled": true, "color": "#000", "size": 16, "opacity": 1},
   "encoding": {"x": {"field": "L", "type": "quantitative", "scale": {"domain": [13.3, 206.7], "nice": false, "zero": false}, "axis": null},
    "y": {"field": "v", "type": "quantitative", "scale": {"domain": [-0.0009, 0.0326], "nice": false, "zero": false}, "axis": {"orient": "left", "values": [0, 0.005, 0.01, 0.015, 0.02, 0.025], "labels": false, "title": null}}}},
  {"data": {"name": "fit"}, "transform": [{"filter": "datum.p == 7"}],
   "mark": {"type": "line", "color": "#000", "strokeWidth": 1.3},
   "encoding": {"x": {"field": "L", "type": "quantitative", "scale": {"domain": [13.3, 206.7], "nice": false, "zero": false}, "axis": null},
    "y": {"field": "v", "type": "quantitative", "scale": {"domain": [-0.0009, 0.0326], "nice": false, "zero": false}, "axis": {"orient": "right", "values": [0, 0.005, 0.01, 0.015, 0.02, 0.025], "labelExpr": "round(datum.value*1000) % 10 == 5 ? format(datum.value, '.3f') : ''", "labelPadding": 5, "title": null}}}},
  {"data": {"values": [{"lab": "2003 Quarter 3–Trimestre 3"}]},
   "mark": {"type": "text", "fontSize": 13.5, "color": "#111", "baseline": "middle"},
   "encoding": {"x": {"datum": 115, "type": "quantitative", "axis": null}, "y": {"datum": 0.0282, "type": "quantitative", "axis": null}, "text": {"field": "lab"}}}
 ],
 "resolve": {"axis": {"x": "independent", "y": "independent"}}},
{"width": 316, "height": 99.4,
 "layer": [
  {"data": {"name": "obs"}, "transform": [{"filter": "datum.p == 8"}],
   "mark": {"type": "point", "shape": "M-1,-0.6H1V0.6H-1Z", "filled": true, "color": "#000", "size": 16, "opacity": 1},
   "encoding": {"x": {"field": "L", "type": "quantitative", "scale": {"domain": [13.3, 206.7], "nice": false, "zero": false}, "axis": {"orient": "bottom", "values": [50, 100, 150, 200], "title": "Length (cm)–Talla (cm)", "titleFontSize": 30, "titleX": 165, "labelPadding": 5, "titlePadding": 10}},
    "y": {"field": "v", "type": "quantitative", "scale": {"domain": [-0.0009, 0.0326], "nice": false, "zero": false}, "axis": {"orient": "left", "values": [0, 0.005, 0.01, 0.015, 0.02, 0.025], "labelExpr": "datum.value == 0 ? '0.0' : round(datum.value*1000) == 10 ? '0.010' : round(datum.value*1000) == 20 ? '0.020' : ''", "labelPadding": 4, "title": null}}}},
  {"data": {"name": "fit"}, "transform": [{"filter": "datum.p == 8"}],
   "mark": {"type": "line", "color": "#000", "strokeWidth": 1.3},
   "encoding": {"x": {"field": "L", "type": "quantitative", "scale": {"domain": [13.3, 206.7], "nice": false, "zero": false}, "axis": null},
    "y": {"field": "v", "type": "quantitative", "scale": {"domain": [-0.0009, 0.0326], "nice": false, "zero": false}, "axis": {"orient": "right", "values": [0, 0.005, 0.01, 0.015, 0.02, 0.025], "labels": false, "title": null}}}},
  {"data": {"values": [{"lab": "2003 Quarter 4–Trimestre 4"}]},
   "mark": {"type": "text", "fontSize": 13.5, "color": "#111", "baseline": "middle"},
   "encoding": {"x": {"datum": 115, "type": "quantitative", "axis": null}, "y": {"datum": 0.0282, "type": "quantitative", "axis": null}, "text": {"field": "lab"}}}
 ],
 "resolve": {"axis": {"x": "independent", "y": "independent"}}}
]
}
